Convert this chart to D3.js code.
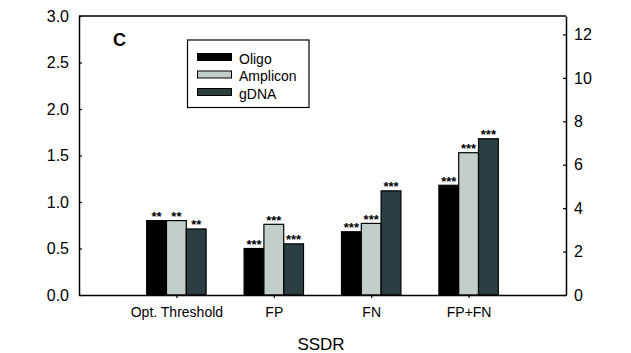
<!DOCTYPE html>
<html>
<head>
<meta charset="utf-8">
<script src="https://cdn.jsdelivr.net/npm/d3@7"></script>
<style>
  html, body { margin: 0; padding: 0; background: #fff; }
  svg text { font-family: "Liberation Sans", Arial, sans-serif; fill: #000; }
</style>
</head>
<body>
<svg id="chart" width="631" height="353"></svg>
<script>
// Categories along the x axis
const categories = ["Opt. Threshold", "FP", "FN", "FP+FN"];
// Series (left-axis values)
const seriesNames = ["Oligo", "Amplicon", "gDNA"];
const oligo    = [0.80, 0.50, 0.68, 1.18];
const amplicon = [0.80, 0.76, 0.77, 1.53];
const gdna     = [0.71, 0.55, 1.12, 1.68];
// Significance marks above each bar
const oligoSig    = ["**", "***", "***", "***"];
const ampliconSig = ["**", "***", "***", "***"];
const gdnaSig     = ["**", "***", "***", "***"];
// Axis ticks
const leftTicks  = [0.0, 0.5, 1.0, 1.5, 2.0, 2.5, 3.0];
const rightTicks = [0, 2, 4, 6, 8, 10, 12];
const xTitle = "SSDR";
const panelLabel = "C";

const colors = ["#000000", "#c3cecb", "#2b3f42"];
const values = [oligo, amplicon, gdna];
const sigs = [oligoSig, ampliconSig, gdnaSig];

const svg = d3.select("#chart");
const m = { left: 79, right: 566, top: 16, bottom: 295 };

const x = d3.scaleLinear().domain([0, categories.length + 1]).range([m.left, m.right]);
const y = d3.scaleLinear().domain([0, 3]).range([m.bottom, m.top]);
const yR = d3.scaleLinear().domain([0, 12.85]).range([m.bottom, m.top]);
const slot = x(1) - x(0);
const groupW = slot * 0.61;
const inner = d3.scaleBand().domain(seriesNames).range([-groupW / 2, groupW / 2]).padding(0);

// Bars with significance marks
seriesNames.forEach((name, s) => {
  const g = svg.append("g");
  g.selectAll("rect").data(values[s]).join("rect")
    .attr("x", (d, i) => x(i + 1) + inner(name))
    .attr("y", d => y(d))
    .attr("width", inner.bandwidth())
    .attr("height", d => y(0) - y(d))
    .attr("fill", colors[s])
    .attr("stroke", "#000")
    .attr("stroke-width", 1.2);
  g.selectAll("text").data(values[s]).join("text")
    .attr("x", (d, i) => x(i + 1) + inner(name) + inner.bandwidth() / 2)
    .attr("y", d => y(d) + 0.5)
    .attr("text-anchor", "middle")
    .style("font-size", "13px")
    .style("font-weight", "bold")
    .text((d, i) => sigs[s][i]);
});

// Frame (top edge)
svg.append("line").attr("x1", m.left).attr("x2", m.right).attr("y1", m.top).attr("y2", m.top)
  .attr("stroke", "#000").attr("stroke-width", 1.5);

// Left axis
const la = svg.append("g").attr("transform", `translate(${m.left},0)`)
  .call(d3.axisLeft(y).tickValues(leftTicks).tickFormat(d3.format(".1f")).tickSizeInner(-3).tickSizeOuter(0).tickPadding(10));
la.select(".domain").attr("stroke-width", 1.5);
la.selectAll("text").style("font-size", "16px");

// Right axis
const ra = svg.append("g").attr("transform", `translate(${m.right},0)`)
  .call(d3.axisRight(yR).tickValues(rightTicks).tickSizeInner(-3).tickSizeOuter(0).tickPadding(8));
ra.select(".domain").attr("stroke-width", 1.5);
ra.selectAll("text").style("font-size", "16px");

// Bottom axis
const ba = svg.append("g").attr("transform", `translate(0,${m.bottom})`)
  .call(d3.axisBottom(x).tickValues(categories.map((c, i) => i + 1))
    .tickFormat((d) => categories[d - 1]).tickSizeInner(3).tickSizeOuter(0).tickPadding(9));
ba.select(".domain").attr("stroke-width", 1.5);
ba.selectAll("text").style("font-size", "14px");

svg.selectAll(".tick line").attr("stroke-width", 1.2);

// Axis title
svg.append("text").attr("x", 321).attr("y", 350)
  .attr("text-anchor", "middle").style("font-size", "17px").text(xTitle);

// Panel label
svg.append("text").attr("x", 113).attr("y", 46)
  .style("font-size", "18px").style("font-weight", "bold").text(panelLabel);

// Legend
const lg = svg.append("g");
lg.append("rect").attr("x", 187.5).attr("y", 40).attr("width", 121.5).attr("height", 67.5)
  .attr("fill", "#fff").attr("stroke", "#000").attr("stroke-width", 1.2);
seriesNames.forEach((name, s) => {
  const yy = 53.5 + s * 17.5;
  lg.append("rect").attr("x", 197.5).attr("y", yy).attr("width", 34).attr("height", 7)
    .attr("fill", colors[s]).attr("stroke", "#000").attr("stroke-width", 1);
  lg.append("text").attr("x", 239).attr("y", yy + 10).style("font-size", "14px").text(name);
});
</script>
</body>
</html>
